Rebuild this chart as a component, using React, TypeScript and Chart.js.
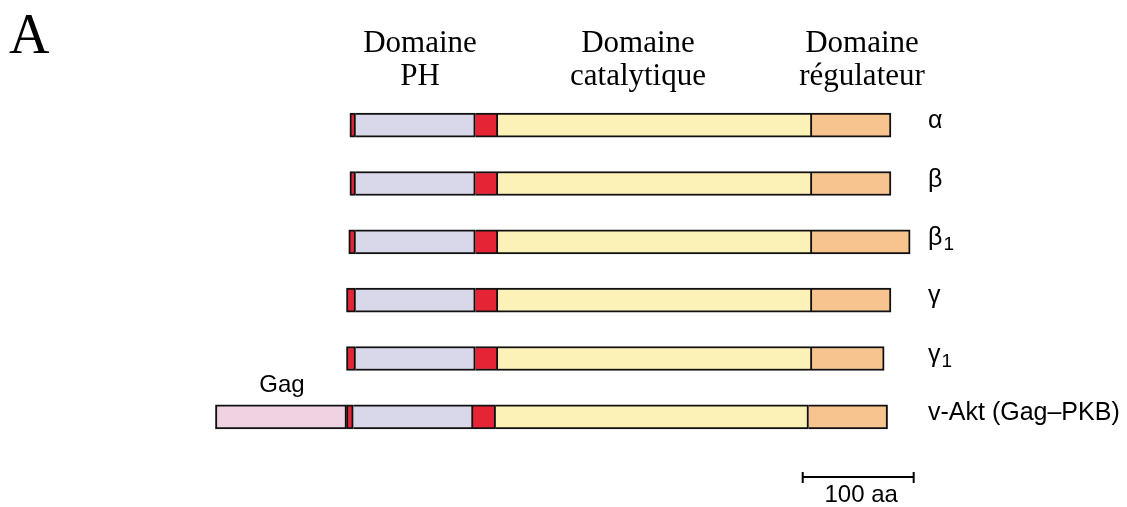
import React, { useEffect, useRef } from "react";
import { Chart, registerables } from "chart.js";

Chart.register(...registerables);

// Rows (isoforms), top to bottom
const rowNames = ["α", "β", "β", "γ", "γ", "v-Akt (Gag–PKB)"];
const rowSubscripts = ["", "", "1", "", "1", ""];

// Segment extents in amino acids, [start, end] per row (null = absent)
const gagSegment: ([number, number] | null)[] = [null, null, null, null, null, [-119, -3]];
const nTermSegment: [number, number][] = [[0, 5], [0, 5], [-1, 5], [-3, 5], [-3, 5], [-3, 3]];
const phSegment: [number, number][] = [[5, 111], [5, 111], [5, 111], [5, 111], [5, 111], [3, 109]];
const linkerSegment: [number, number][] = [[111, 131], [111, 131], [111, 131], [111, 131], [111, 131], [109, 129]];
const catalyticSegment: [number, number][] = [[131, 409], [131, 409], [131, 409], [131, 409], [131, 409], [129, 406]];
const regulatorySegment: [number, number][] = [[409, 479], [409, 479], [409, 496], [409, 479], [409, 473], [406, 476]];

// Scale bar
const scaleBarStart = 400;
const scaleBarLength = 100;
const scaleBarLabel = "100 aa";

const headers = [
  { lines: ["Domaine", "PH"], x: 420 },
  { lines: ["Domaine", "catalytique"], x: 638 },
  { lines: ["Domaine", "régulateur"], x: 862 },
];

const RED = "#E52536";
const LAVENDER = "#D9D7EA";
const YELLOW = "#FCF2B7";
const ORANGE = "#F7C48F";
const PINK = "#F1D2E2";
const EDGE = "#111111";

const SANS = '"Liberation Sans", Arial, sans-serif';
const SERIF = '"Liberation Serif", "Times New Roman", serif';

const textPlugin = {
  id: "diagramText",
  afterDraw(chart: any) {
    const ctx = chart.ctx as CanvasRenderingContext2D;
    const xs = chart.scales.x;
    const ys = chart.scales.y;
    ctx.save();
    ctx.fillStyle = "#000";

    // Panel letter
    ctx.font = `56px ${SERIF}`;
    ctx.textAlign = "left";
    ctx.textBaseline = "alphabetic";
    ctx.fillText("A", 9, 53);

    // Headers
    ctx.font = `31px ${SERIF}`;
    ctx.textAlign = "center";
    headers.forEach((h) => {
      h.lines.forEach((line, i) => {
        ctx.fillText(line, h.x, 52 + i * 33);
      });
    });

    // Row labels
    ctx.textAlign = "left";
    rowNames.forEach((name, i) => {
      const y = ys.getPixelForValue(i) + 3;
      ctx.font = `25px ${SANS}`;
      ctx.fillText(name, 928, y);
      const w = ctx.measureText(name).width;
      if (rowSubscripts[i]) {
        ctx.font = `19px ${SANS}`;
        ctx.fillText(rowSubscripts[i], 928 + w + 1, y + 5);
      }
    });

    // Gag label
    ctx.font = `24px ${SANS}`;
    ctx.textAlign = "center";
    const gag = gagSegment[5];
    if (gag) {
      const gx = (xs.getPixelForValue(gag[0]) + xs.getPixelForValue(gag[1])) / 2;
      ctx.fillText("Gag", gx + 1, ys.getPixelForValue(5) - 25);
    }

    // Scale bar
    const x0 = xs.getPixelForValue(scaleBarStart);
    const x1 = xs.getPixelForValue(scaleBarStart + scaleBarLength);
    const by = 477;
    ctx.strokeStyle = "#000";
    ctx.lineWidth = 2;
    ctx.beginPath();
    ctx.moveTo(x0, by);
    ctx.lineTo(x1, by);
    ctx.moveTo(x0 + 1, by - 5);
    ctx.lineTo(x0 + 1, by + 6);
    ctx.moveTo(x1 - 1, by - 5);
    ctx.lineTo(x1 - 1, by + 6);
    ctx.stroke();
    ctx.fillText(scaleBarLabel, (x0 + x1) / 2 + 3, 502);

    ctx.restore();
  },
};

export default function App() {
  const canvasRef = useRef<HTMLCanvasElement | null>(null);

  useEffect(() => {
    if (!canvasRef.current) return;
    const mk = (label: string, data: any[], color: string, first: boolean) => ({
      label,
      data,
      backgroundColor: color,
      borderColor: EDGE,
      borderWidth: 2,
      borderSkipped: first ? false : "start",
      grouped: false,
      barThickness: 24,
    });
    const chart = new Chart(canvasRef.current, {
      type: "bar",
      data: {
        labels: rowNames.map((n, i) => n + rowSubscripts[i]),
        datasets: [
          mk("Gag", gagSegment, PINK, true),
          mk("N-terminal", nTermSegment, RED, true),
          mk("Domaine PH", phSegment, LAVENDER, false),
          mk("Charnière", linkerSegment, RED, false),
          mk("Domaine catalytique", catalyticSegment, YELLOW, false),
          mk("Domaine régulateur", regulatorySegment, ORANGE, false),
        ] as any,
      },
      options: {
        indexAxis: "y",
        animation: false,
        responsive: false,
        layout: { padding: { left: 11, right: 9, top: 96, bottom: 61 } },
        plugins: { legend: { display: false }, tooltip: { enabled: false } },
        scales: {
          x: { type: "linear", min: -300, max: 680, display: false },
          y: { type: "category", display: false, offset: true },
        },
      },
      plugins: [textPlugin],
    });
    return () => chart.destroy();
  }, []);

  return (
    <div style={{ position: "absolute", left: 0, top: 0, width: 1127, height: 507, background: "#fff" }}>
      <canvas ref={canvasRef} width={1127} height={507} />
    </div>
  );
}
